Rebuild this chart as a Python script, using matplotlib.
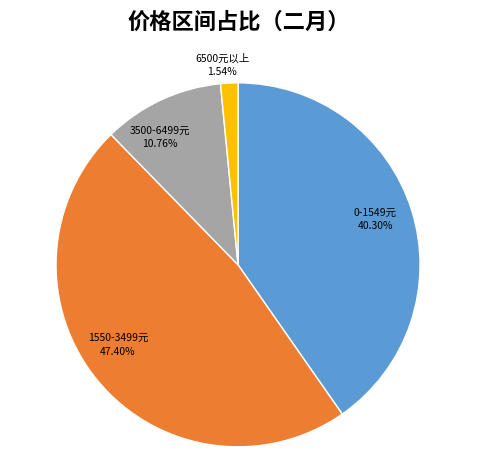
import matplotlib
matplotlib.use("Agg")
import matplotlib.pyplot as plt
import numpy as np

plt.rcParams['font.family'] = ['Noto Sans CJK SC', 'DejaVu Sans']

categories = ["0-1549元", "1550-3499元", "3500-6499元", "6500元以上"]
values = [40.30, 47.40, 10.76, 1.54]
colors = ["#5B9BD5", "#ED7D31", "#A5A5A5", "#FFC000"]

fig = plt.figure(figsize=(4.98, 4.59), dpi=100)
ax = fig.add_axes([0.1125, 0.0265, 0.731, 0.793])
wedges, _ = ax.pie(values, colors=colors, startangle=90, counterclock=False,
                   wedgeprops=dict(edgecolor='white', linewidth=1))
ax.set_xlim(-1, 1); ax.set_ylim(-1, 1)
ax.set_aspect('auto')

label_pos = [(0.753, 0.247), (-0.659, -0.44), (-0.429, 0.698), (-0.088, 1.099)]
for (x, y), c, v in zip(label_pos, categories, values):
    ax.text(x, y, f"{c}\n{v:.2f}%", ha='center', va='center', fontsize=7.5,
            linespacing=1.4, clip_on=False)

fig.text(0.48, 0.952, "价格区间占比（二月）", ha='center', va='center',
         fontsize=16, fontweight='bold')
fig.savefig("out.png", dpi=100)
